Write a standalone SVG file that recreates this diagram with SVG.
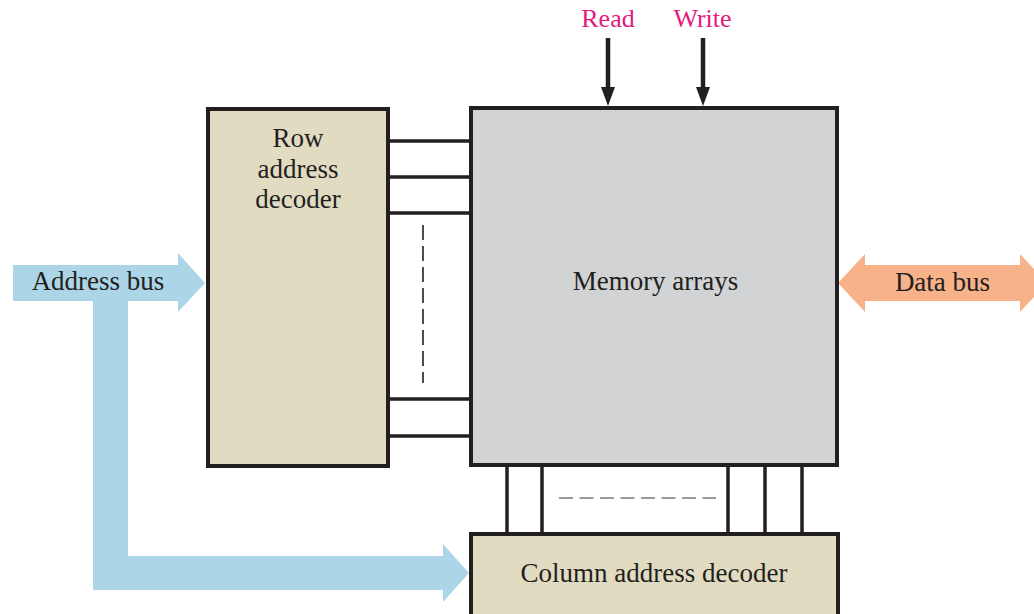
<svg xmlns="http://www.w3.org/2000/svg" width="1034" height="614" viewBox="0 0 1034 614">
  <style>
    .box { stroke: #231F20; stroke-width: 4; }
    .tan { fill: #E1DBC1; }
    .gray { fill: #D2D3D5; }
    .wire { stroke: #231F20; stroke-width: 3.5; fill: none; }
    .head { fill: #231F20; }
    .txt { font-family: "Liberation Serif", "Times New Roman", serif; font-size: 27px; fill: #231F20; text-anchor: middle; }
    .ctl { font-family: "Liberation Serif", "Times New Roman", serif; font-size: 26px; fill: #E6197D; text-anchor: middle; }
  </style>
  <rect width="1034" height="614" fill="#FFFFFF"/>

  <g id="connectors">
    <!-- Address bus -->
    <polygon fill="#ADD5E8" points="13,265 178,265 178,253 205,283 178,312 178,301 128,301 128,556 443,556 443,544 469,573 443,602 443,590 93,590 93,301 13,301"/>
    <!-- Data bus -->
    <polygon fill="#F8B28A" points="838,283 865,254 865,265 1020,265 1020,254 1047,283 1020,312 1020,301 865,301 865,312"/>
    <!-- Row lines -->
    <line class="wire" x1="388" y1="141" x2="471" y2="141"/>
    <line class="wire" x1="388" y1="177" x2="471" y2="177"/>
    <line class="wire" x1="388" y1="213" x2="471" y2="213"/>
    <line class="wire" x1="388" y1="399" x2="471" y2="399"/>
    <line class="wire" x1="388" y1="436" x2="471" y2="436"/>
    <line x1="423" y1="225" x2="423" y2="383" stroke="#231F20" stroke-width="1.6" stroke-dasharray="15 6"/>
    <!-- Column lines -->
    <line class="wire" x1="507" y1="465" x2="507" y2="534"/>
    <line class="wire" x1="542" y1="465" x2="542" y2="534"/>
    <line class="wire" x1="728" y1="465" x2="728" y2="534"/>
    <line class="wire" x1="765" y1="465" x2="765" y2="534"/>
    <line class="wire" x1="802" y1="465" x2="802" y2="534"/>
    <line x1="559" y1="498" x2="716" y2="498" stroke="#7A7A7A" stroke-width="1.6" stroke-dasharray="14 6.5"/>
    <!-- Read / Write -->
    <line x1="608" y1="38" x2="608" y2="88" stroke="#231F20" stroke-width="4.5"/>
    <path class="head" d="M601,87 L615,87 L608,106 Z"/>
    <line x1="703" y1="38" x2="703" y2="88" stroke="#231F20" stroke-width="4.5"/>
    <path class="head" d="M696,87 L710,87 L703,106 Z"/>
    <text class="ctl" x="608" y="27">Read</text>
    <text class="ctl" x="702.5" y="27">Write</text>
    <text class="txt" x="98" y="290">Address bus</text>
    <text class="txt" x="942.5" y="291">Data bus</text>
  </g>

  <g id="row-decoder">
    <rect class="box tan" x="208" y="109" width="180" height="357"/>
    <text class="txt" x="298" y="147">Row</text>
    <text class="txt" x="298" y="178">address</text>
    <text class="txt" x="298" y="208">decoder</text>
  </g>

  <g id="memory-arrays">
    <rect class="box gray" x="471" y="108" width="366" height="357"/>
    <text class="txt" x="655.5" y="290">Memory arrays</text>
  </g>

  <g id="column-decoder">
    <rect class="box tan" x="471" y="534" width="367" height="84"/>
    <text class="txt" x="654" y="582">Column address decoder</text>
  </g>
</svg>
